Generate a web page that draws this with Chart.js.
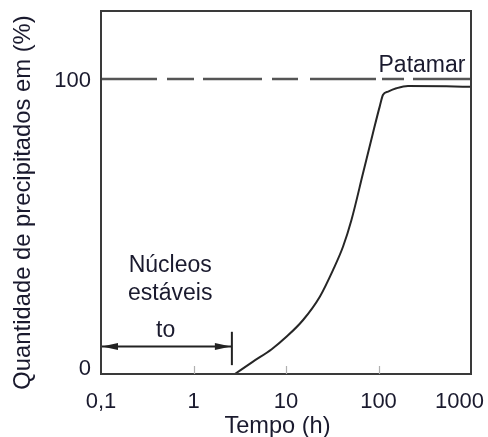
<!DOCTYPE html>
<html>
<head>
<meta charset="utf-8">
<script src="https://cdn.jsdelivr.net/npm/chart.js@4"></script>
<style>
  html, body { margin: 0; padding: 0; background: #fff; }
  canvas { display: block; }
</style>
</head>
<body>
<canvas id="c" width="488" height="437"></canvas>
<script>
// Precipitation curve: time (h) on a log axis vs. amount precipitated (%)
const tempoH      = [2.8, 4.4, 7, 10.1, 15.3, 23.2, 32.3, 41.4, 51, 68, 87, 103, 112, 127, 156, 208, 540, 1000];
const precipitado = [0, 4.2, 8.4, 12.6, 18.3, 26.2, 35.3, 43.2, 52.2, 68, 81.6, 90.6, 94.6, 95.7, 96.8, 97.6, 97.5, 97.3];

// Plateau reference level
const patamarX = [0.1, 1000];
const patamarY = [100, 100];

// Axis ticks and labels
const xTicks      = [0.1, 1, 10, 100, 1000];
const xTickLabels = ['0,1', '1', '10', '100', '1000'];
const yTicks      = [0, 100];
const yTickLabels = ['0', '100'];

// Incubation time t0 (stable nuclei)
const t0 = 2.6;

const FONT = '"Liberation Sans", Arial, sans-serif';
const TEXT = '#1a1a2e';

const decorations = {
  id: 'decorations',
  afterDatasetsDraw(chart) {
    const { ctx, chartArea: a, scales: { x, y } } = chart;
    ctx.save();

    // frame around the plot area
    ctx.strokeStyle = '#3a3a3a';
    ctx.lineWidth = 2;
    ctx.strokeRect(a.left, a.top, a.right - a.left, a.bottom - a.top);

    // small inward tick marks on the time axis
    ctx.strokeStyle = '#b0b0b0';
    ctx.lineWidth = 1.2;
    xTicks.slice(1, -1).forEach(v => {
      const px = Math.round(x.getPixelForValue(v)) + 0.5;
      ctx.beginPath();
      ctx.moveTo(px, a.bottom);
      ctx.lineTo(px, a.bottom - 8);
      ctx.stroke();
    });

    // time tick labels
    ctx.fillStyle = TEXT;
    ctx.font = '22px ' + FONT;
    ctx.textAlign = 'center';
    ctx.textBaseline = 'alphabetic';
    xTicks.forEach((v, i) => {
      const w = ctx.measureText(xTickLabels[i]).width;
      let px = x.getPixelForValue(v);
      px = Math.min(px, chart.width - 4 - w / 2);
      ctx.fillText(xTickLabels[i], px, a.bottom + 34);
    });

    // percentage tick labels
    ctx.textAlign = 'right';
    yTicks.forEach((v, i) => {
      const py = Math.min(y.getPixelForValue(v) + 8.5, a.bottom + 1);
      ctx.fillText(yTickLabels[i], a.left - 10, py);
    });

    // axis titles
    ctx.font = '23.6px ' + FONT;
    ctx.textAlign = 'center';
    ctx.fillText('Tempo (h)', 277.5, 433);

    ctx.save();
    ctx.translate(23, 202.5);
    ctx.rotate(-Math.PI / 2);
    ctx.font = '23.8px ' + FONT;
    ctx.textBaseline = 'middle';
    ctx.fillText('Quantidade de precipitados em (%)', 0, 0);
    ctx.restore();

    // plateau label
    ctx.font = '23px ' + FONT;
    ctx.textAlign = 'left';
    ctx.fillText('Patamar', x.getPixelForValue(100), y.getPixelForValue(102.5));

    // stable nuclei notes
    ctx.textAlign = 'center';
    const xc = x.getPixelForValue(0.56);
    ctx.fillText('Núcleos', xc, y.getPixelForValue(34.7));
    ctx.fillText('estáveis', xc, y.getPixelForValue(25.1));
    ctx.fillText('to', x.getPixelForValue(0.5), y.getPixelForValue(12.6));

    // double arrow from the origin to t0, ending at a vertical bar
    const xa = x.getPixelForValue(0.1) + 1;
    const xb = x.getPixelForValue(t0);
    const ya = y.getPixelForValue(9.3);
    ctx.strokeStyle = '#222';
    ctx.fillStyle = '#222';
    ctx.lineWidth = 2;
    ctx.beginPath();
    ctx.moveTo(xa, ya);
    ctx.lineTo(xb, ya);
    ctx.stroke();
    ctx.beginPath();
    ctx.moveTo(xb, y.getPixelForValue(14.3));
    ctx.lineTo(xb, y.getPixelForValue(3));
    ctx.stroke();
    ctx.beginPath();
    ctx.moveTo(xa, ya);
    ctx.lineTo(xa + 16, ya - 3.5);
    ctx.lineTo(xa + 16, ya + 3.5);
    ctx.closePath();
    ctx.fill();
    ctx.beginPath();
    ctx.moveTo(xb - 1, ya);
    ctx.lineTo(xb - 17, ya - 3.5);
    ctx.lineTo(xb - 17, ya + 3.5);
    ctx.closePath();
    ctx.fill();

    ctx.restore();
  }
};

new Chart(document.getElementById('c'), {
  type: 'line',
  data: {
    datasets: [
      {
        label: 'Patamar',
        data: patamarX.map((v, i) => ({ x: v, y: patamarY[i] })),
        borderColor: '#555',
        borderWidth: 2.5,
        borderDash: [56, 10, 27, 9, 59, 10, 26, 12, 66, 6, 22, 9, 60],
        pointRadius: 0,
        tension: 0
      },
      {
        label: 'Precipitados',
        data: tempoH.map((v, i) => ({ x: v, y: precipitado[i] })),
        borderColor: '#262626',
        borderWidth: 2,
        pointRadius: 0,
        tension: 0.4,
        cubicInterpolationMode: 'monotone'
      }
    ]
  },
  options: {
    responsive: false,
    animation: false,
    events: [],
    layout: { padding: { left: 101, right: 17, top: 11, bottom: 63 } },
    plugins: { legend: { display: false }, tooltip: { enabled: false } },
    scales: {
      x: {
        type: 'logarithmic',
        min: 0.1,
        max: 1000,
        grid: { display: false },
        border: { display: false },
        ticks: { display: false },
        afterFit(s) { s.height = 0; s.paddingLeft = 0; s.paddingRight = 0; }
      },
      y: {
        type: 'linear',
        min: 0,
        max: 123,
        grid: { display: false },
        border: { display: false },
        ticks: { display: false },
        afterFit(s) { s.width = 0; s.paddingTop = 0; s.paddingBottom = 0; }
      }
    }
  },
  plugins: [decorations]
});
</script>
</body>
</html>
